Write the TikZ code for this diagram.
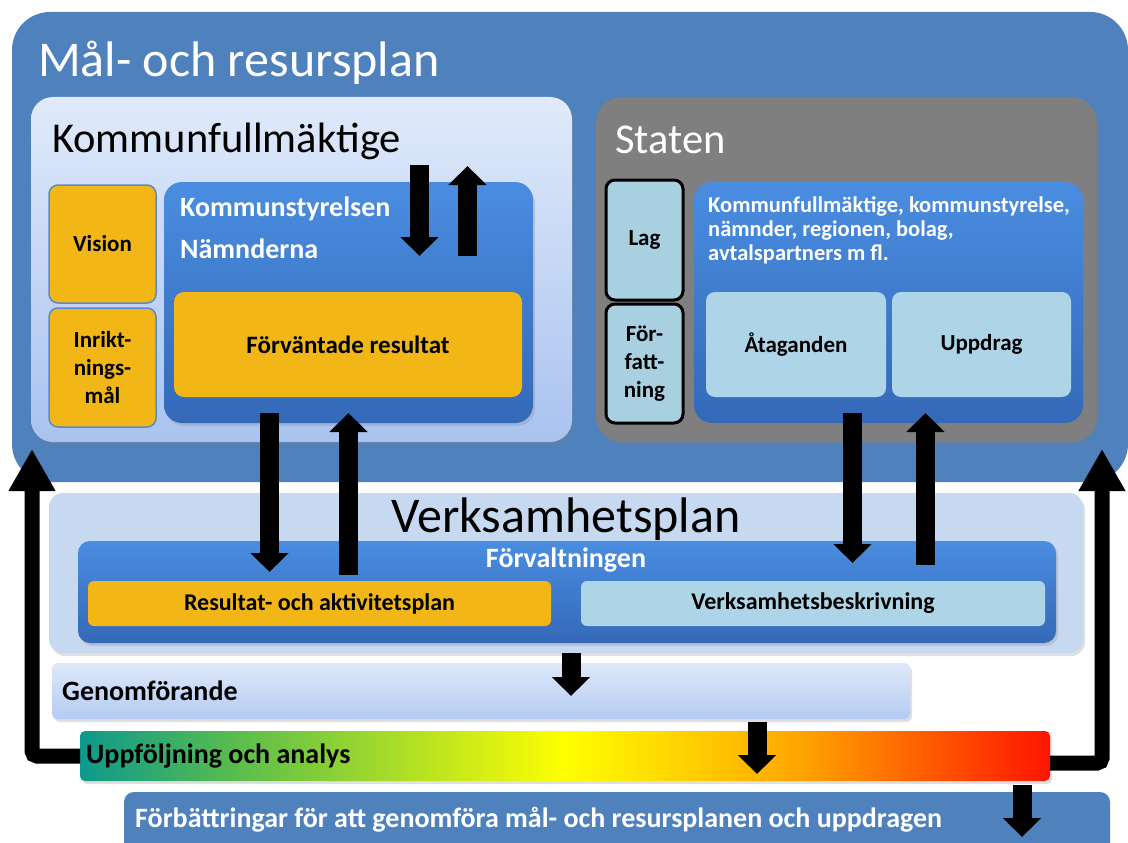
\documentclass[tikz,border=0pt]{standalone}
\usepackage{fontspec}
\setmainfont{Carlito}
\usetikzlibrary{arrows.meta,positioning,shadows}

\definecolor{planblue}{HTML}{4F81BD}
\definecolor{kftop}{HTML}{E0EAFA}
\definecolor{kfbottom}{HTML}{A9C3F0}
\definecolor{kstop}{HTML}{4A8DE0}
\definecolor{ksbottom}{HTML}{3469B8}
\definecolor{goldfill}{HTML}{F2B717}
\definecolor{goldedge}{HTML}{5B8AC6}
\definecolor{statengray}{HTML}{7F7F7F}
\definecolor{lawfill}{HTML}{A8D0E1}
\definecolor{taskfill}{HTML}{AED5E7}
\definecolor{vpfill}{HTML}{C6D9F1}
\definecolor{gentop}{HTML}{DEE8FA}
\definecolor{genbottom}{HTML}{B4CBF2}

\pgfdeclarehorizontalshading{followup}{100bp}{rgb(0bp)=(0.05,0.6,0.55); rgb(25bp)=(0.05,0.6,0.55); rgb(33bp)=(0.35,0.74,0.3); rgb(50bp)=(1,1,0); rgb(62bp)=(1,0.65,0); rgb(75bp)=(1,0.08,0); rgb(100bp)=(1,0.08,0)}

\newcommand\mrpfont{\fontsize{50}{58}\selectfont}
\newcommand\headfont{\fontsize{42.5}{48}\selectfont}
\newcommand\ksfont{\fontsize{28}{32}\selectfont\bfseries}
\newcommand\tagfont{\fontsize{23}{28}\selectfont\bfseries}
\newcommand\listfont{\fontsize{22.5}{24}\selectfont\bfseries}
\newcommand\planfont{\fontsize{24}{29}\selectfont\bfseries}
\newcommand\barfont{\fontsize{28}{32}\selectfont\bfseries}

\begin{document}
\begin{tikzpicture}[x=1pt,y=-1pt,
  plate/.style={anchor=north west,inner sep=0pt,outer sep=0pt,rounded corners=#1},
  plate/.default=10pt,
  softshadow/.style={drop shadow={shadow xshift=2pt,shadow yshift=-3pt,opacity=0.25}},
  goldbox/.style={plate=9pt,fill=goldfill,draw=goldedge,line width=1.5pt,font=\tagfont,align=center},
  lawbox/.style={plate=9pt,fill=lawfill,draw=black,line width=3pt,font=\tagfont,align=center},
  taskbox/.style={plate=9pt,fill=taskfill,font=\tagfont,align=center},
  bluebox/.style={plate=18pt,top color=kstop,bottom color=ksbottom,softshadow},
  blockarrow/.style={line width=19pt,-{Triangle[width=37pt,length=19pt]}},
  looparrow/.style={line width=15pt,rounded corners=5pt,-{Triangle[width=44pt,length=42pt]}},
]
\useasboundingbox (0,0) rectangle (1128,843);

% Mål- och resursplan
\node[plate=38pt,fill=planblue,minimum width=1116pt,minimum height=470pt] (mrp) at (12,12) {};
\node[anchor=base west,text=white,font=\mrpfont,inner sep=0pt] (mrptitle) at (38,77) {Mål- och resursplan};

% Kommunfullmäktige
\node[plate=22pt,top color=kftop,bottom color=kfbottom,softshadow,minimum width=541pt,minimum height=345pt] (kf) at (31,97) {};
\node[anchor=base west,font=\headfont,inner sep=0pt] (kftitle) at (52,152) {Kommunfullmäktige};
\node[goldbox,minimum width=107pt,minimum height=118pt] (vision) at (49,185) {Vision};
\node[goldbox,minimum width=107pt,minimum height=119pt] (inrikt) at (49,308) {Inrikt-\\nings-\\mål};
\node[bluebox,minimum width=369pt,minimum height=241pt] (ks) at (164,182) {};
\node[anchor=base west,text=white,font=\ksfont,inner sep=0pt] (kstitle) at (180,216) {Kommunstyrelsen};
\node[anchor=base west,text=white,font=\ksfont,inner sep=0pt] (nmtitle) at (180,258) {Nämnderna};
\node[plate=10pt,fill=goldfill,font=\fontsize{25}{30}\selectfont\bfseries,minimum width=348pt,minimum height=105pt] (forv) at (174,292) {Förväntade resultat};

% Staten
\node[plate=26pt,fill=statengray,softshadow,minimum width=501pt,minimum height=345pt] (staten) at (596,97) {};
\node[anchor=base west,text=white,font=\headfont,inner sep=0pt] (statentitle) at (615,153) {Staten};
\node[lawbox,minimum width=77pt,minimum height=120pt] (lag) at (606,180) {Lag};
\node[lawbox,minimum width=77pt,minimum height=119pt] (forf) at (606,304) {För-\\fatt-\\ning};
\node[bluebox,minimum width=389pt,minimum height=241pt] (aktor) at (694,182) {};
\node[anchor=north west,text=white,font=\listfont,align=left,inner sep=0pt] (aktortext) at (708,196)
  {Kommunfullmäktige, kommunstyrelse,\\nämnder, regionen, bolag,\\avtalspartners m fl.};
\node[taskbox,minimum width=180pt,minimum height=105pt] (atag) at (706,292) {Åtaganden};
\node[taskbox,minimum width=179pt,minimum height=105pt] (uppdrag) at (892,292) {Uppdrag};

% Verksamhetsplan
\node[plate=14pt,fill=vpfill,softshadow,minimum width=1034pt,minimum height=160pt] (vp) at (49,493) {};
\node[anchor=base,font=\mrpfont,inner sep=0pt] (vptitle) at (566,532) {Verksamhetsplan};
\node[bluebox,plate=12pt,minimum width=978pt,minimum height=102pt] (fvb) at (78,541) {};
\node[text=white,font=\ksfont,inner sep=0pt] (fvtitle) at (566,560) {Förvaltningen};
\node[plate=6pt,fill=goldfill,font=\planfont,minimum width=463pt,minimum height=45pt] (rap) at (88,581) {Resultat- och aktivitetsplan};
\node[plate=6pt,fill=taskfill,font=\planfont,minimum width=464pt,minimum height=45pt] (vb) at (581,581) {Verksamhetsbeskrivning};

% Genomförande, uppföljning, förbättringar
\node[plate=5pt,top color=gentop,bottom color=genbottom,softshadow,minimum width=858pt,minimum height=56pt] (gen) at (52,663) {};
\node[anchor=west,font=\barfont,inner sep=0pt] (gentext) at ([xshift=10pt]gen.west) {Genomförande};
\node[plate=5pt,shading=followup,softshadow,minimum width=970pt,minimum height=50pt] (upf) at (80,731) {};
\node[anchor=west,font=\barfont,inner sep=0pt] (upftext) at ([xshift=6pt]upf.west) {Uppföljning och analys};
\node[plate=10pt,fill=planblue,minimum width=986pt,minimum height=70pt] (forb) at (124,792) {};
\node[anchor=west,text=white,font=\barfont,inner sep=0pt] (forbtext) at (135,820) {Förbättringar för att genomföra mål- och resursplanen och uppdragen};

% pilar
\draw[blockarrow] ([xshift=71pt,yshift=17pt]ks.north) -- ([xshift=71pt,yshift=-74pt]ks.north);
\draw[blockarrow] ([xshift=119pt,yshift=-74pt]ks.north) -- ([xshift=119pt,yshift=16pt]ks.north);
\draw[blockarrow] ([xshift=-79pt,yshift=10pt]ks.south) -- ([xshift=-79pt,yshift=9pt]ks.south |- rap.north);
\draw[blockarrow] ([yshift=6pt]ks.south |- rap.north) -- ([yshift=10pt]ks.south);
\draw[blockarrow] ([xshift=-36pt,yshift=10pt]aktor.south) -- ([xshift=-36pt,yshift=18pt]aktor.south |- vb.north);
\draw[blockarrow] ([xshift=37pt,yshift=16pt]aktor.south |- vb.north) -- ([xshift=37pt,yshift=10pt]aktor.south);
\draw[blockarrow] ([xshift=5pt]vp.south) -- ([xshift=5pt,yshift=-5pt]vp.south |- gen.center);
\draw[blockarrow] ([xshift=192pt,yshift=-3pt]upf.north |- gen.south) -- ([xshift=192pt,yshift=7pt]upf.south);
\draw[blockarrow] ([xshift=405pt,yshift=-4pt]forb.north |- upf.south) -- ([xshift=405pt,yshift=-45pt]forb.north);
\draw[looparrow] (upf.west) -| ([xshift=20pt,yshift=33pt]mrp.south west);
\draw[looparrow] ([yshift=-7pt]upf.east) -| ([xshift=-26pt,yshift=33pt]mrp.south east);
\end{tikzpicture}
\end{document}
